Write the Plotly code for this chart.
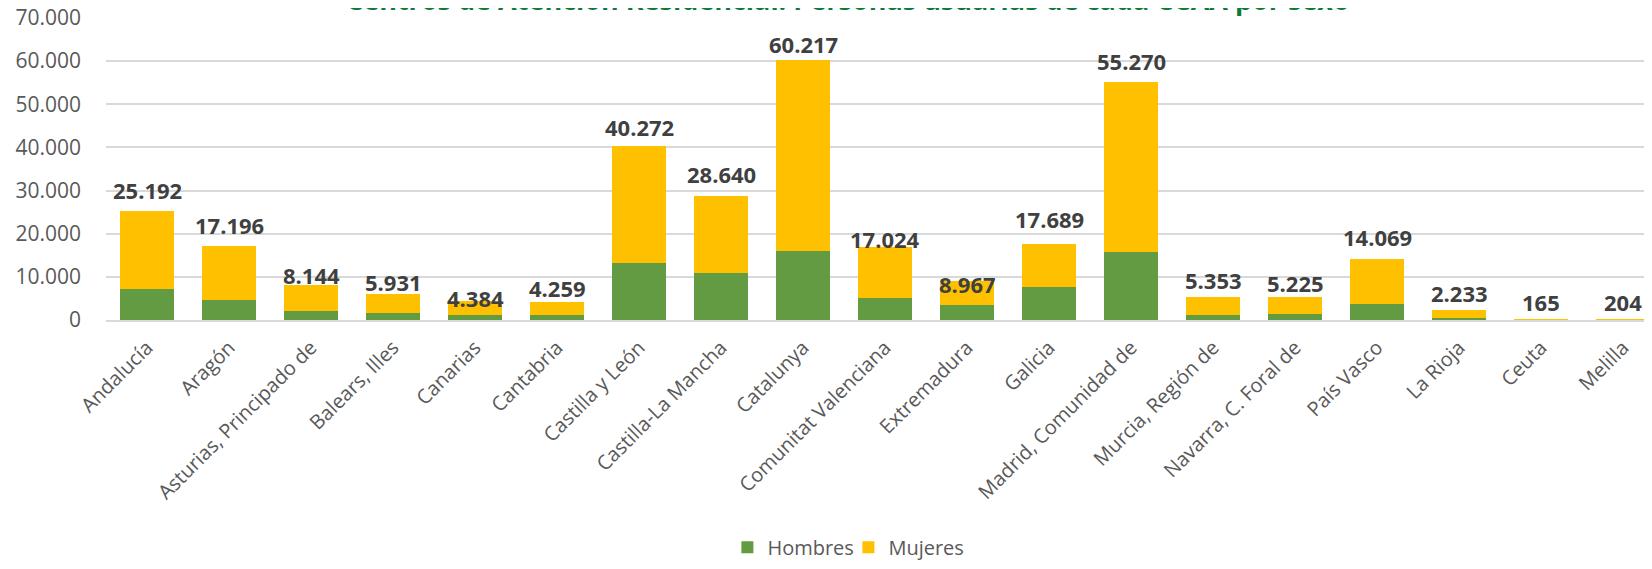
import plotly.graph_objects as go

categories = ["Andalucía", "Aragón", "Asturias, Principado de", "Balears, Illes", "Canarias",
              "Cantabria", "Castilla y León", "Castilla-La Mancha", "Catalunya",
              "Comunitat Valenciana", "Extremadura", "Galicia", "Madrid, Comunidad de",
              "Murcia, Región de", "Navarra, C. Foral de", "País Vasco", "La Rioja", "Ceuta", "Melilla"]
hombres = [7224, 4689, 2187, 1566, 1097, 1085, 13136, 10812, 15954, 5215, 3512, 7538, 15662,
           1231, 1472, 3681, 498, 62, 79]
mujeres = [17968, 12507, 5957, 4365, 3287, 3174, 27136, 17828, 44263, 11809, 5455, 10151, 39608,
           4122, 3753, 10388, 1735, 103, 125]
y_ticks = [0, 10000, 20000, 30000, 40000, 50000, 60000, 70000]
y_tick_labels = ["0", "10.000", "20.000", "30.000", "40.000", "50.000", "60.000", "70.000"]
title_text = "Centros de Atención Residencial. Personas usuarias de cada CCAA por sexo"

# style: pixel gap of each total label above its bar
label_gap = [21, 21, 10, 12, 3, 14, 19, 22, 16, 8, -3, 25, 21, 17, 14, 22, 17, 17, 17]

GREEN = "#629B41"
YELLOW = "#FFC000"
FONT = "Open Sans"

fig = go.Figure()
fig.add_trace(go.Bar(x=categories, y=hombres, name="Hombres", marker_color=GREEN,
                     marker_line_width=0))
fig.add_trace(go.Bar(x=categories, y=mujeres, name="Mujeres", marker_color=YELLOW,
                     marker_line_width=0))

totals = [h + m for h, m in zip(hombres, mujeres)]
for cat, tot, gap in zip(categories, totals, label_gap):
    txt = f"{tot:,}".replace(",", ".")
    fig.add_annotation(x=cat, y=tot, text=txt, showarrow=False, yanchor="middle",
                       yshift=gap, xref="x", yref="y",
                       font=dict(family=FONT, size=22, color="#404040", weight="bold"))

fig.add_annotation(x=0.4824, y=1.0, xref="paper", yref="paper", yshift=-3,
                   text=f"<b>{title_text}</b>", showarrow=False, yanchor="bottom",
                   font=dict(family=FONT, size=27, color="#0E7A3A"))

fig.update_layout(
    width=1636, height=553,
    barmode="stack", bargap=0.335,
    plot_bgcolor="white", paper_bgcolor="white",
    margin=dict(l=98, r=0, t=9, b=241, autoexpand=False),
    showlegend=True,
    legend=dict(orientation="h", x=0.4827, xanchor="center", y=-0.75, yanchor="middle",
                font=dict(family=FONT, size=20, color="#595959"), traceorder="normal",
                entrywidth=76, entrywidthmode="pixels"),
    xaxis=dict(tickangle=-45, tickfont=dict(family=FONT, size=20, color="#595959"),
               range=[-0.5, 18.256], showline=True, linecolor="#D9D9D9", linewidth=2,
               ticks="", showgrid=False, automargin=False, ticklabelstandoff=6),
    yaxis=dict(range=[0, 70232], tickvals=y_ticks, ticktext=y_tick_labels,
               tickfont=dict(family=FONT, size=21, color="#595959"),
               showgrid=True, gridcolor="#D9D9D9", gridwidth=2, zeroline=False,
               ticklabelstandoff=24, automargin=False, ticklabeloverflow="allow"),
)

fig.write_html("out.html")
